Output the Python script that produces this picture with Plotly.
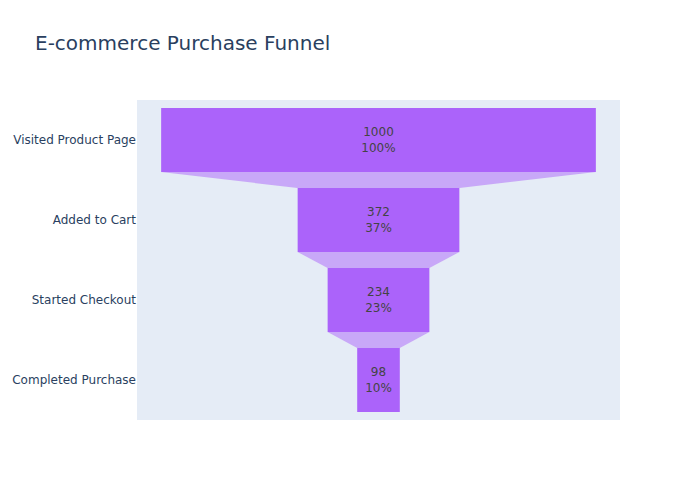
import plotly.graph_objects as go

stages = ["Visited Product Page", "Added to Cart", "Started Checkout", "Completed Purchase"]
values = [1000, 372, 234, 98]

fig = go.Figure(go.Funnel(
    y=stages,
    x=values,
    textinfo="value+percent initial",
    marker=dict(color="#ab63fa"),
))
fig.update_layout(title=dict(text="E-commerce Purchase Funnel", font=dict(size=20)),
                  width=700, height=500,
                  font=dict(family="DejaVu Sans"))
fig.write_html("out.html")
